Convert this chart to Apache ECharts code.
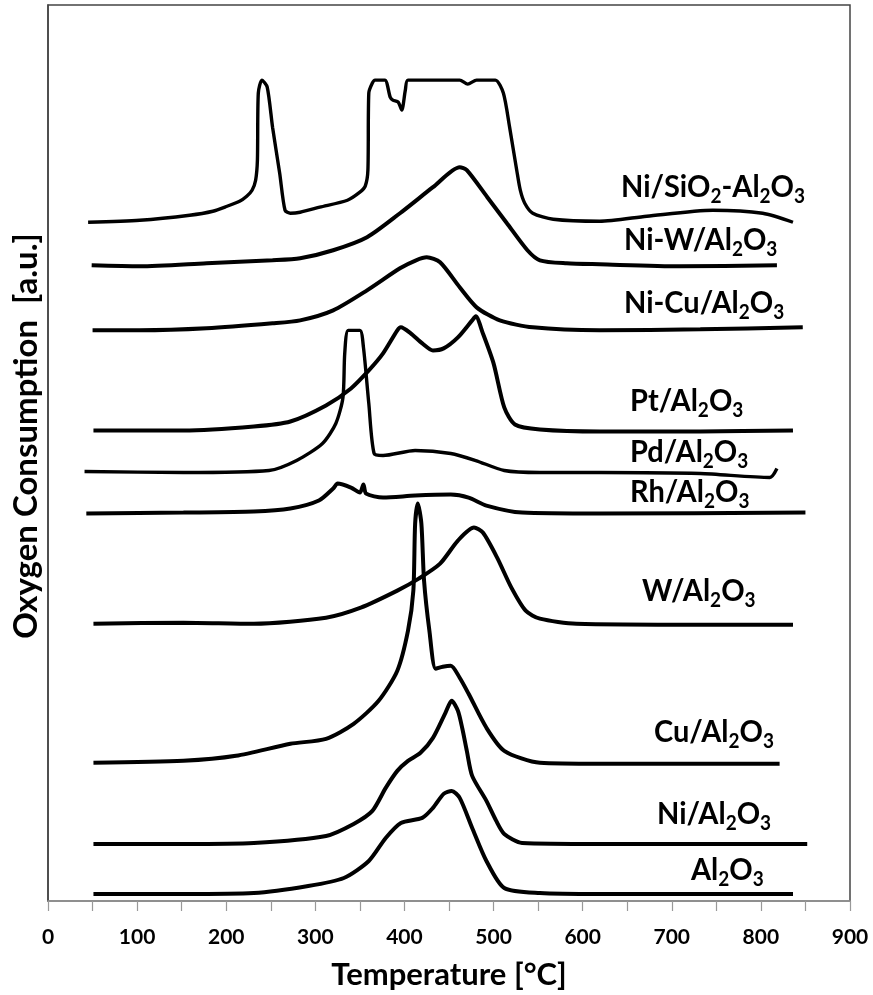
<!DOCTYPE html>
<html>
<head>
<meta charset="utf-8">
<script src="https://cdn.jsdelivr.net/npm/echarts@6/dist/echarts.min.js"></script>
<style>
html,body{margin:0;padding:0;background:#fff;}
#c{width:873px;height:995px;}
</style>
</head>
<body>
<div id="c"></div>
<script>
// ---- data: [temperature °C, offset signal a.u.] ----
const xTicks = [0,100,200,300,400,500,600,700,800,900];
const seriesNames = ['Ni/SiO2-Al2O3','Ni-W/Al2O3','Ni-Cu/Al2O3','Pt/Al2O3','Pd/Al2O3','Rh/Al2O3','W/Al2O3','Cu/Al2O3','Ni/Al2O3','Al2O3'];

const niSiO2 = [[45,678],[103,680],[159,685],[185,689],[201,694],[215,699],[223,704],[229,710],[233,720],[235,740],[236,807],[240,820],[246,813],[252,773],[260,727],[266,690],[272,687],[283,688],[305,693],[336,700],[350,708],[356,714],[359,730],[360,807],[364,817],[367,820],[378,820],[384,803],[387,800],[393,798],[397,790],[401,810],[404,820],[462,820],[471,816],[481,820],[502,820],[511,807],[518,773],[526,730],[530,710],[535,697],[544,687],[567,681],[619,679],[672,684],[746,690],[802,687],[836,678]];
const niW = [[49,635],[103,634],[178,637],[252,640],[283,642],[320,650],[358,663],[395,687],[432,713],[462,733],[470,730],[493,703],[515,677],[538,650],[552,640],[582,637],[619,636],[709,634],[818,635]];
const niCu = [[50,570],[103,570],[178,572],[252,577],[283,580],[320,590],[358,610],[395,632],[413,640],[425,643],[440,638],[462,613],[481,593],[507,580],[544,573],[619,570],[732,571],[847,573]];
const pt = [[51,470],[152,470],[231,474],[272,479],[312,495],[340,512],[360,530],[376,547],[392,570],[396,573],[407,567],[420,557],[432,550],[444,552],[460,563],[476,580],[480,584],[488,567],[500,537],[512,493],[524,476],[552,471],[619,469],[732,469],[836,470]];
const pd = [[41,429],[152,428],[248,430],[279,440],[308,457],[323,477],[331,503],[333,547],[337,570],[350,570],[354,553],[360,497],[366,447],[376,445],[412,450],[452,447],[480,440],[512,430],[552,428],[619,428],[732,427],[810,423],[818,432]];
const rh = [[43,387],[152,388],[231,389],[272,392],[304,400],[320,412],[325,417],[340,413],[350,408],[354,416],[357,407],[376,403],[412,405],[452,406],[472,403],[492,395],[532,388],[619,387],[850,388]];
const w = [[51,277],[152,278],[231,277],[312,283],[351,293],[392,310],[416,322],[440,337],[460,360],[478,373],[488,368],[504,343],[520,313],[536,290],[552,282],[593,277],[732,276],[836,276]];
const cu = [[51,138],[152,140],[211,145],[272,157],[312,162],[343,177],[371,200],[392,230],[404,270],[410,310],[412,377],[415,397],[419,377],[422,320],[428,270],[435,232],[443,234],[452,235],[462,223],[472,207],[492,173],[512,150],[552,138],[619,137],[821,137]];
const niAl = [[51,57],[152,57],[231,58],[312,65],[343,77],[364,90],[379,113],[392,130],[404,140],[418,148],[432,163],[446,188],[453,200],[460,190],[465,172],[470,150],[476,125],[492,100],[503,80],[512,67],[532,58],[619,57],[852,57]];
const al = [[51,7],[152,7],[231,8],[292,15],[332,23],[360,40],[379,63],[396,78],[420,83],[432,93],[444,107],[453,110],[462,103],[476,73],[492,40],[512,13],[552,8],[619,7],[836,7]];

const curves = [niSiO2, niW, niCu, pt, pd, rh, w, cu, niAl, al];

// label rich-text strings (subscripts marked)
const labelTexts = [
  '{n|Ni/SiO}{s|2}{n|-Al}{s|2}{n|O}{s|3}',
  '{n|Ni-W/Al}{s|2}{n|O}{s|3}',
  '{n|Ni-Cu/Al}{s|2}{n|O}{s|3}',
  '{n|Pt/Al}{s|2}{n|O}{s|3}',
  '{n|Pd/Al}{s|2}{n|O}{s|3}',
  '{n|Rh/Al}{s|2}{n|O}{s|3}',
  '{n|W/Al}{s|2}{n|O}{s|3}',
  '{n|Cu/Al}{s|2}{n|O}{s|3}',
  '{n|Ni/Al}{s|2}{n|O}{s|3}',
  '{n|Al}{s|2}{n|O}{s|3}'
];
const labelPos = [[621,187],[624,240],[624,303],[630,401],[630,452],[630,492],[642,591],[654,732],[657,814],[691,870]];

const FONT = 'Lato, "Liberation Sans", sans-serif';
const rich = {
  n: {fontFamily: FONT, fontWeight: 'bold', fontSize: 29, color: '#000', lineHeight: 36},
  s: {fontFamily: FONT, fontWeight: 'bold', fontSize: 19, color: '#000', lineHeight: 19, verticalAlign: 'bottom'}
};

const chart = echarts.init(document.getElementById('c'), null, {renderer: 'canvas'});
const option = {
  animation: false,
  backgroundColor: '#fff',
  grid: {left: 48, right: 23, top: 5, bottom: 94, show: true, borderColor: '#444', borderWidth: 1.5, containLabel: false},
  xAxis: {
    type: 'value', min: 0, max: 900, interval: 100,
    name: 'Temperature [°C]', nameLocation: 'middle', nameGap: 58,
    nameTextStyle: {fontFamily: FONT, fontWeight: 'bold', fontSize: 31, color: '#000'},
    axisLine: {show: true, lineStyle: {color: '#999', width: 1.5}},
    axisTick: {show: true, length: 10, lineStyle: {color: '#999', width: 1.2}},
    minorTick: {show: true, splitNumber: 2, length: 10, lineStyle: {color: '#999', width: 1.2}},
    axisLabel: {fontFamily: FONT, fontWeight: 'bold', fontSize: 21, color: '#000', margin: 26, formatter: v => xTicks.includes(v) ? String(v) : ''},
    splitLine: {show: false}
  },
  yAxis: {
    type: 'value', min: 0, max: 895,
    axisLine: {show: true, lineStyle: {color: '#444', width: 1.5}},
    axisTick: {show: false}, axisLabel: {show: false}, splitLine: {show: false}
  },
  series: curves.map((d, i) => ({
    name: seriesNames[i], type: 'line', data: d, showSymbol: false, smooth: 0.25,
    lineStyle: {color: '#000', width: (i === 0 || i === 4) ? 3.4 : 4}, z: 2
  })),
  graphic: [
    {type: 'text', x: 26, y: 436, rotation: Math.PI / 2,
     style: {text: 'Oxygen Consumption  [a.u.]', fontFamily: FONT, fontWeight: 'bold', fontSize: 33, fill: '#000', align: 'center', verticalAlign: 'middle'}}
  ].concat(labelTexts.map((t, i) => ({
    type: 'text', x: labelPos[i][0], y: labelPos[i][1], scaleY: 1.08,
    style: {text: t, rich: rich, align: 'left', verticalAlign: 'middle'}
  })))
};
chart.setOption(option);
</script>
</body>
</html>
